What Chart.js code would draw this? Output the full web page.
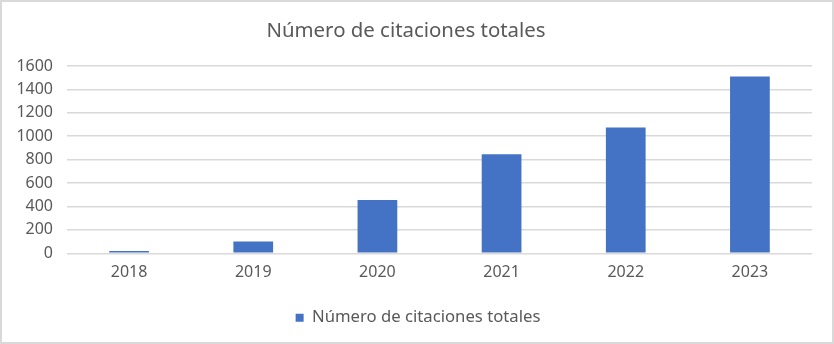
<!DOCTYPE html>
<html><head><meta charset="utf-8">
<script src="https://cdn.jsdelivr.net/npm/chart.js@4"></script>
<style>html,body{margin:0;padding:0;background:#fff}#wrap{width:834px;height:344px;position:relative}</style>
</head><body><div id="wrap"><canvas id="c" width="834" height="344"></canvas></div>
<script>
const categories = ["2018","2019","2020","2021","2022","2023"];
const seriesName = "Número de citaciones totales";
const values = [20, 100, 455, 845, 1075, 1510];
const yTicks = [0,200,400,600,800,1000,1200,1400,1600];

const FONT = "'Noto Sans', sans-serif";
const border = {id:'border', afterDraw(ch){const c=ch.ctx;c.save();c.strokeStyle='#d9d9d9';c.lineWidth=2;c.strokeRect(1,1,ch.width-2,ch.height-2);c.restore();}};
const legendShift = {id:'legendShift', afterLayout(ch){ if(ch.legend){ch.legend.left+=12; ch.legend.right+=12;} }};

new Chart(document.getElementById('c'), {
  type:'bar',
  data:{labels:categories, datasets:[{label:seriesName, data:values, backgroundColor:'#4472C4', borderColor:'#4472C4', borderWidth:0, barPercentage:0.32, categoryPercentage:1}]},
  options:{
    responsive:false, animation:false, devicePixelRatio:1,
    layout:{padding:{left:0,right:22,top:0,bottom:8}},
    plugins:{
      title:{display:true, text:seriesName, color:'#595959', font:{family:FONT,size:20.4,weight:'normal'}, padding:{top:19,bottom:22.5}},
      legend:{position:'bottom', labels:{color:'#595959', font:{family:FONT,size:16.7}, boxWidth:8, boxHeight:8, padding:14}},
      tooltip:{enabled:false}
    },
    scales:{
      x:{grid:{display:false}, border:{display:false}, afterFit(s){s.height=42;}, ticks:{color:'#595959', font:{family:FONT,size:16}, padding:2}},
      y:{min:0,max:1600, afterFit(s){s.width=67;}, afterBuildTicks(s){s.ticks=yTicks.map(v=>({value:v}));},
         grid:{color:'#d9d9d9', lineWidth:1.5, drawTicks:false}, border:{display:false},
         ticks:{color:'#595959', font:{family:FONT,size:16}, padding:14, callback:(v)=>String(v)}}
    }
  },
  plugins:[border, legendShift]
});
</script></body></html>
